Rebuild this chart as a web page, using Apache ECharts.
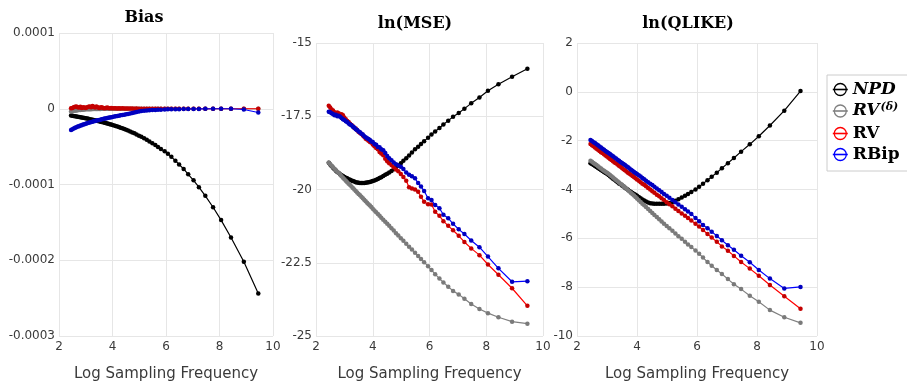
<!DOCTYPE html>
<html>
<head>
<meta charset="utf-8">
<script src="https://cdn.jsdelivr.net/npm/echarts@6/dist/echarts.min.js"></script>
<style>html,body{margin:0;padding:0;background:#fff}#c{width:907px;height:387px}</style>
</head>
<body>
<div id="c"></div>
<script>
// Log sampling frequency (x positions)
const logFreq = [2.45,2.50,2.55,2.60,2.65,2.70,2.75,2.80,2.85,2.90,2.95,3.00,3.05,3.10,3.15,3.20,3.25,3.30,3.35,3.40,3.45,3.50,3.55,3.60,3.65,3.70,3.75,3.80,3.85,3.90,3.95,4.00,
4.06,4.12,4.18,4.24,4.30,4.37,4.44,4.51,4.58,4.66,4.74,4.82,4.90,4.99,5.08,5.18,5.28,5.38,5.49,5.60,5.70,
5.81,5.95,6.07,6.20,6.35,6.49,6.66,6.83,7.03,7.23,7.47,7.76,8.06,8.43,8.91,9.45];

// Bias
const biasNPD = [-0.90e-5,-0.93e-5,-0.96e-5,-0.99e-5,-1.02e-5,-1.05e-5,-1.08e-5,-1.11e-5,-1.15e-5,-1.18e-5,-1.21e-5,-1.25e-5,-1.29e-5,-1.33e-5,-1.37e-5,-1.41e-5,-1.45e-5,-1.49e-5,-1.53e-5,-1.57e-5,-1.62e-5,-1.66e-5,-1.70e-5,-1.75e-5,-1.79e-5,-1.84e-5,-1.89e-5,-1.94e-5,-1.99e-5,-2.04e-5,-2.09e-5,-2.14e-5,
-2.21e-5,-2.28e-5,-2.35e-5,-2.42e-5,-2.50e-5,-2.59e-5,-2.68e-5,-2.78e-5,-2.88e-5,-3.00e-5,-3.12e-5,-3.25e-5,-3.39e-5,-3.55e-5,-3.71e-5,-3.90e-5,-4.10e-5,-4.31e-5,-4.55e-5,-4.80e-5,-5.04e-5,
-5.30e-5,-5.60e-5,-5.95e-5,-6.35e-5,-6.85e-5,-7.35e-5,-7.95e-5,-8.65e-5,-9.45e-5,-10.35e-5,-11.50e-5,-13.00e-5,-14.70e-5,-17.00e-5,-20.20e-5,-24.40e-5];
const biasRVd = [-0.35e-5,-0.30e-5,-0.28e-5,-0.25e-5,-0.22e-5,-0.20e-5,-0.18e-5,-0.15e-5,-0.13e-5,-0.12e-5,-0.10e-5,-0.08e-5,-0.07e-5,-0.06e-5,-0.05e-5,-0.05e-5,-0.04e-5,-0.04e-5,-0.03e-5,-0.03e-5,-0.02e-5,-0.02e-5,-0.02e-5,-0.01e-5,-0.01e-5,-0.01e-5,-0.01e-5,0,0,0,0,0,
0,0,0,0,0,0,0,0,0,0,0,0,0,0,0,0,0,0,0,0,0,
0,0,0,0,0,0,0,0,0,0,0,0,0,0,0,0];
const biasRV = [0.05e-5,0.10e-5,0.20e-5,0.25e-5,0.30e-5,0.20e-5,0.15e-5,0.25e-5,0.10e-5,0.20e-5,0.15e-5,0.10e-5,0.20e-5,0.25e-5,0.30e-5,0.20e-5,0.35e-5,0.25e-5,0.15e-5,0.30e-5,0.20e-5,0.10e-5,0.15e-5,0.20e-5,0.10e-5,0.05e-5,0.10e-5,0.15e-5,0.10e-5,0.05e-5,0.10e-5,0.05e-5,
0.05e-5,0.08e-5,0.04e-5,0.06e-5,0.03e-5,0.05e-5,0.04e-5,0.02e-5,0.03e-5,0.02e-5,0.02e-5,0.01e-5,0.02e-5,0.01e-5,0.01e-5,0.01e-5,0,0.01e-5,0,0,0,
0,0,0,0,0,0,0,0,0,0,0,0,0,0,0,0];
const biasRBip = [-2.80e-5,-2.70e-5,-2.62e-5,-2.50e-5,-2.44e-5,-2.33e-5,-2.30e-5,-2.20e-5,-2.17e-5,-2.08e-5,-2.05e-5,-1.97e-5,-1.93e-5,-1.86e-5,-1.83e-5,-1.76e-5,-1.73e-5,-1.66e-5,-1.63e-5,-1.56e-5,-1.53e-5,-1.47e-5,-1.44e-5,-1.38e-5,-1.36e-5,-1.30e-5,-1.28e-5,-1.22e-5,-1.20e-5,-1.14e-5,-1.12e-5,-1.08e-5,
-1.03e-5,-0.99e-5,-0.95e-5,-0.91e-5,-0.87e-5,-0.82e-5,-0.78e-5,-0.73e-5,-0.68e-5,-0.63e-5,-0.57e-5,-0.50e-5,-0.42e-5,-0.35e-5,-0.30e-5,-0.26e-5,-0.23e-5,-0.20e-5,-0.18e-5,-0.16e-5,-0.14e-5,
-0.12e-5,-0.10e-5,-0.08e-5,-0.07e-5,-0.06e-5,-0.05e-5,-0.04e-5,-0.03e-5,-0.02e-5,-0.02e-5,-0.01e-5,0,0,0,-0.10e-5,-0.50e-5];

// ln(MSE)
const mseNPD = [-19.09,-19.15,-19.21,-19.26,-19.31,-19.36,-19.40,-19.44,-19.48,-19.51,-19.54,-19.57,-19.60,-19.62,-19.65,-19.67,-19.69,-19.71,-19.73,-19.75,-19.76,-19.77,-19.78,-19.78,-19.78,-19.78,-19.77,-19.76,-19.75,-19.74,-19.73,-19.71,
-19.69,-19.67,-19.64,-19.61,-19.58,-19.54,-19.50,-19.46,-19.42,-19.37,-19.31,-19.25,-19.18,-19.10,-19.02,-18.93,-18.84,-18.74,-18.63,-18.54,-18.45,
-18.35,-18.23,-18.12,-18.02,-17.90,-17.78,-17.65,-17.52,-17.39,-17.24,-17.06,-16.86,-16.63,-16.41,-16.15,-15.88];
const mseRVd = [-19.09,-19.14,-19.19,-19.24,-19.29,-19.34,-19.39,-19.44,-19.49,-19.55,-19.60,-19.65,-19.70,-19.75,-19.80,-19.85,-19.90,-19.95,-20.00,-20.05,-20.10,-20.15,-20.20,-20.25,-20.30,-20.35,-20.40,-20.45,-20.50,-20.55,-20.60,-20.66,
-20.72,-20.78,-20.84,-20.90,-20.96,-21.03,-21.10,-21.17,-21.24,-21.32,-21.40,-21.49,-21.57,-21.66,-21.75,-21.85,-21.95,-22.05,-22.16,-22.27,-22.37,
-22.48,-22.62,-22.75,-22.89,-23.04,-23.17,-23.32,-23.46,-23.58,-23.73,-23.91,-24.08,-24.22,-24.36,-24.51,-24.58];
const mseRV = [-17.14,-17.20,-17.27,-17.30,-17.36,-17.40,-17.37,-17.40,-17.45,-17.43,-17.47,-17.55,-17.60,-17.66,-17.70,-17.76,-17.80,-17.84,-17.90,-17.92,-17.98,-18.03,-18.07,-18.10,-18.16,-18.20,-18.27,-18.29,-18.34,-18.38,-18.40,-18.46,
-18.52,-18.58,-18.63,-18.72,-18.77,-18.83,-18.95,-19.04,-19.10,-19.16,-19.24,-19.32,-19.38,-19.47,-19.57,-19.70,-19.92,-19.97,-20.00,-20.08,-20.25,
-20.42,-20.50,-20.51,-20.76,-20.90,-21.08,-21.24,-21.39,-21.58,-21.79,-22.01,-22.24,-22.56,-22.91,-23.37,-23.97];
const mseRBip = [-17.35,-17.36,-17.40,-17.42,-17.47,-17.45,-17.50,-17.48,-17.52,-17.56,-17.60,-17.63,-17.67,-17.70,-17.75,-17.78,-17.81,-17.86,-17.88,-17.94,-17.97,-18.02,-18.05,-18.10,-18.12,-18.18,-18.22,-18.25,-18.28,-18.31,-18.36,-18.38,
-18.45,-18.47,-18.55,-18.56,-18.63,-18.66,-18.75,-18.86,-18.93,-19.00,-19.08,-19.14,-19.18,-19.22,-19.30,-19.42,-19.50,-19.55,-19.62,-19.78,-19.90,
-20.05,-20.30,-20.36,-20.53,-20.64,-20.86,-20.98,-21.17,-21.36,-21.52,-21.74,-21.97,-22.29,-22.69,-23.15,-23.13];

// ln(QLIKE)
const qlNPD = [-2.92,-2.96,-3.00,-3.04,-3.08,-3.12,-3.16,-3.20,-3.24,-3.28,-3.32,-3.36,-3.41,-3.46,-3.51,-3.56,-3.60,-3.65,-3.70,-3.75,-3.79,-3.84,-3.88,-3.93,-3.97,-4.01,-4.06,-4.10,-4.14,-4.18,-4.22,-4.26,
-4.31,-4.36,-4.41,-4.45,-4.49,-4.53,-4.56,-4.57,-4.58,-4.58,-4.58,-4.58,-4.58,-4.57,-4.55,-4.51,-4.46,-4.40,-4.33,-4.26,-4.18,
-4.10,-4.00,-3.89,-3.76,-3.62,-3.48,-3.31,-3.13,-2.92,-2.71,-2.45,-2.15,-1.82,-1.38,-0.77,0.03];
const qlRVd = [-2.82,-2.86,-2.91,-2.96,-3.00,-3.05,-3.10,-3.14,-3.19,-3.23,-3.27,-3.31,-3.36,-3.41,-3.46,-3.51,-3.56,-3.61,-3.66,-3.71,-3.76,-3.81,-3.86,-3.92,-3.97,-4.03,-4.08,-4.14,-4.19,-4.25,-4.31,-4.37,
-4.44,-4.51,-4.58,-4.65,-4.72,-4.80,-4.88,-4.96,-5.04,-5.13,-5.22,-5.31,-5.40,-5.49,-5.59,-5.69,-5.80,-5.91,-6.02,-6.14,-6.25,
-6.36,-6.50,-6.63,-6.79,-6.97,-7.12,-7.30,-7.46,-7.67,-7.88,-8.08,-8.35,-8.60,-8.94,-9.23,-9.46];
const qlRV = [-2.14,-2.19,-2.23,-2.28,-2.33,-2.37,-2.42,-2.47,-2.51,-2.56,-2.61,-2.65,-2.70,-2.75,-2.79,-2.84,-2.89,-2.93,-2.98,-3.03,-3.07,-3.12,-3.17,-3.21,-3.26,-3.31,-3.35,-3.40,-3.45,-3.49,-3.54,-3.59,
-3.64,-3.70,-3.76,-3.81,-3.87,-3.94,-4.00,-4.07,-4.13,-4.21,-4.28,-4.36,-4.43,-4.52,-4.60,-4.69,-4.79,-4.88,-4.98,-5.08,-5.17,
-5.27,-5.40,-5.52,-5.66,-5.82,-5.97,-6.14,-6.33,-6.51,-6.72,-6.97,-7.24,-7.53,-7.91,-8.37,-8.88];
const qlRBip = [-1.97,-2.01,-2.06,-2.10,-2.15,-2.19,-2.24,-2.28,-2.33,-2.37,-2.42,-2.46,-2.51,-2.55,-2.60,-2.64,-2.69,-2.73,-2.78,-2.82,-2.87,-2.91,-2.96,-3.00,-3.05,-3.09,-3.14,-3.19,-3.23,-3.28,-3.32,-3.37,
-3.42,-3.47,-3.53,-3.58,-3.64,-3.70,-3.76,-3.82,-3.89,-3.96,-4.03,-4.10,-4.18,-4.26,-4.34,-4.43,-4.52,-4.61,-4.71,-4.81,-4.90,
-5.00,-5.17,-5.30,-5.45,-5.59,-5.73,-5.90,-6.08,-6.28,-6.47,-6.71,-6.98,-7.30,-7.65,-8.05,-7.99];

const panelTitles = ['Bias', 'ln(MSE)', 'ln(QLIKE)'];
const xTicks = {min: 2, max: 10, interval: 2};
const yTicks = [
  {min: -0.0003, max: 0.0001, interval: 0.0001},
  {min: -25, max: -15, interval: 2.5},
  {min: -10, max: 2, interval: 2}
];
const seriesNames = ['NPD', 'RVd', 'RV', 'RBip'];
const panelData = [
  [biasNPD, biasRVd, biasRV, biasRBip],
  [mseNPD, mseRVd, mseRV, mseRBip],
  [qlNPD, qlRVd, qlRV, qlRBip]
];

const lineColors = ['#000000', '#808080', '#ff0000', '#0000ff'];
const markColors = ['#000000', '#7a7a7a', '#c40000', '#0000c0'];
const grids = [
  {left: 59, top: 33, width: 214, height: 312},
  {left: 316, top: 43, width: 227, height: 306},
  {left: 577, top: 43, width: 240, height: 306}
];
const titlePos = [[144, 18], [415, 24], [688, 24]];

const gridLine = {show: true, lineStyle: {color: '#e6e6e6', width: 1}};
const tickFont = {fontFamily: 'DejaVu Sans', fontSize: 12, color: '#3a3a3a'};

const xAxes = grids.map((g, i) => ({
  gridIndex: i, type: 'value', min: xTicks.min, max: xTicks.max, interval: xTicks.interval,
  axisLine: {show: false}, axisTick: {show: false}, splitLine: gridLine,
  axisLabel: Object.assign({margin: 5}, tickFont),
  name: 'Log Sampling Frequency', nameLocation: 'middle', nameGap: 31,
  nameTextStyle: {fontFamily: 'DejaVu Sans', fontSize: 15, color: '#3a3a3a'}
}));
const yAxes = grids.map((g, i) => ({
  gridIndex: i, type: 'value', min: yTicks[i].min, max: yTicks[i].max, interval: yTicks[i].interval,
  axisLine: {show: false}, axisTick: {show: false}, splitLine: gridLine,
  axisLabel: Object.assign({margin: 4, formatter: function (v) {
    if (Math.abs(v) < 1e-12) return '0';
    return i === 0 ? v.toFixed(4) : String(+v.toFixed(2));
  }}, tickFont)
}));

const series = [];
panelData.forEach((arrs, p) => {
  arrs.forEach((arr, s) => {
    series.push({
      name: seriesNames[s], type: 'line', xAxisIndex: p, yAxisIndex: p,
      data: logFreq.map((x, k) => [x, arr[k]]),
      symbol: 'circle', symbolSize: 4.5, showSymbol: true,
      lineStyle: {color: lineColors[s], width: 1.2},
      itemStyle: {color: markColors[s]},
      z: 2 + s
    });
  });
});

const legendLabels = {
  NPD: '{bi|NPD}',
  RVd: '{bi|RV}{sup|(δ)}',
  RV: '{b|RV}',
  RBip: '{b|RBip}'
};
const serif = 'DejaVu Serif';

const option = {
  animation: false,
  backgroundColor: '#fff',
  grid: grids,
  xAxis: xAxes,
  yAxis: yAxes,
  series: series,
  legend: {
    orient: 'vertical', left: 827, top: 75,
    itemWidth: 15, itemHeight: 15, itemGap: 4,
    padding: [6, 14, 8, 5],
    borderColor: '#cccccc', borderWidth: 1, backgroundColor: '#fff',
    data: seriesNames.map((n, s) => ({
      name: n,
      itemStyle: {color: 'rgba(0,0,0,0)', borderColor: lineColors[s], borderWidth: 1.3},
      lineStyle: {color: lineColors[s], width: 1.6}
    })),
    formatter: n => legendLabels[n],
    textStyle: {
      rich: {
        bi: {fontFamily: serif, fontWeight: 'bold', fontStyle: 'italic', fontSize: 17, color: '#000', lineHeight: 18},
        sup: {fontFamily: serif, fontWeight: 'bold', fontStyle: 'italic', fontSize: 11, color: '#000', verticalAlign: 'top', lineHeight: 18, padding: [0, 0, 8, 1]},
        b: {fontFamily: serif, fontWeight: 'bold', fontSize: 17, color: '#000', lineHeight: 18}
      }
    }
  },
  graphic: panelTitles.map((t, i) => ({
    type: 'text', x: titlePos[i][0], y: titlePos[i][1], silent: true,
    style: {text: t, align: 'center', verticalAlign: 'middle', fontFamily: serif, fontWeight: 'bold', fontSize: 16, fill: '#000'}
  }))
};

const chart = echarts.init(document.getElementById('c'), null, {renderer: 'canvas'});
chart.setOption(option);
</script>
</body>
</html>
